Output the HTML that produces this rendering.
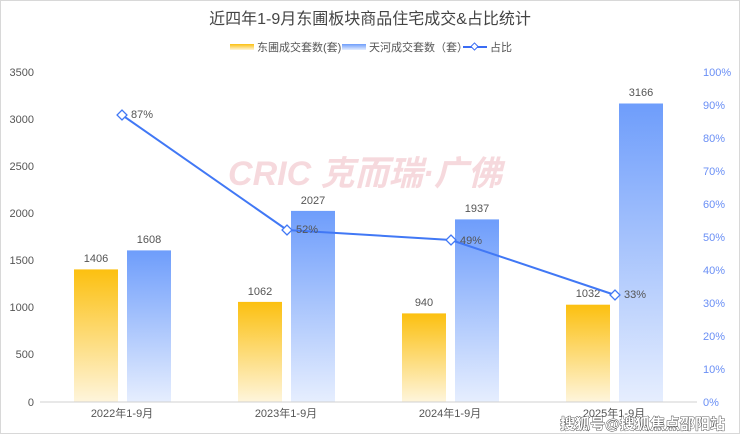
<!DOCTYPE html>
<html><head><meta charset="utf-8"><style>
body{margin:0;background:#fff}
svg{display:block;font-family:"Liberation Sans","Noto Sans CJK SC",sans-serif}
</style></head><body>
<svg width="740" height="439" viewBox="0 0 740 439">
<defs>
<linearGradient id="g" x1="0" y1="0" x2="0" y2="1"><stop offset="0" stop-color="#fcc010"/><stop offset="1" stop-color="#fef5dc"/></linearGradient>
<linearGradient id="b" x1="0" y1="0" x2="0" y2="1"><stop offset="0" stop-color="#6e9dfb"/><stop offset="1" stop-color="#e6eefe"/></linearGradient>
</defs>
<rect x="0.5" y="0.5" width="739" height="433" fill="#fff" stroke="#d8d8d8"/>
<text x="370" y="24" text-anchor="middle" font-size="16" fill="#444">近四年1-9月东圃板块商品住宅成交&amp;占比统计</text>
<rect x="230" y="44" width="24" height="6" fill="url(#g)"/>
<text x="257" y="51" font-size="11" fill="#555">东圃成交套数(套)</text>
<rect x="342" y="44" width="24" height="6" fill="url(#b)"/>
<text x="369" y="51" font-size="11" fill="#555">天河成交套数（套）</text>
<line x1="463" y1="47" x2="487" y2="47" stroke="#3a6cf4" stroke-width="2"/>
<rect x="472" y="44" width="5" height="5" transform="rotate(45 474.5 46.5)" fill="#fff" stroke="#3a6cf4"/>
<text x="490" y="51" font-size="11" fill="#555">占比</text>
<g font-size="11" fill="#555" text-anchor="end">
<text x="34" y="76">3500</text><text x="34" y="123">3000</text><text x="34" y="170">2500</text><text x="34" y="217">2000</text><text x="34" y="264">1500</text><text x="34" y="311">1000</text><text x="34" y="358">500</text><text x="34" y="406">0</text>
</g>
<g font-size="11" fill="#6a8ff5">
<text x="703" y="76">100%</text><text x="703" y="109">90%</text><text x="703" y="142">80%</text><text x="703" y="175">70%</text><text x="703" y="208">60%</text><text x="703" y="241">50%</text><text x="703" y="274">40%</text><text x="703" y="307">30%</text><text x="703" y="340">20%</text><text x="703" y="373">10%</text><text x="703" y="406">0%</text>
</g>
<text x="365" y="185" text-anchor="middle" font-size="34" font-weight="bold" font-style="italic" fill="#f3c9cf" opacity="0.7">CRIC 克而瑞·广佛</text>
<g>
<rect x="74" y="269.4" width="44" height="132.6" fill="url(#g)"/>
<rect x="127" y="250.4" width="44" height="151.6" fill="url(#b)"/>
<rect x="238" y="301.9" width="44" height="100.1" fill="url(#g)"/>
<rect x="291" y="210.9" width="44" height="191.1" fill="url(#b)"/>
<rect x="402" y="313.4" width="44" height="88.6" fill="url(#g)"/>
<rect x="455" y="219.4" width="44" height="182.6" fill="url(#b)"/>
<rect x="566" y="304.7" width="44" height="97.3" fill="url(#g)"/>
<rect x="619" y="103.5" width="44" height="298.5" fill="url(#b)"/>
</g>
<line x1="40" y1="402" x2="697" y2="402" stroke="#d0d0d0"/>
<g font-size="11" fill="#555" text-anchor="middle">
<text x="96" y="262">1406</text><text x="149" y="243">1608</text>
<text x="260" y="295">1062</text><text x="313" y="204">2027</text>
<text x="424" y="306">940</text><text x="477" y="212">1937</text>
<text x="588" y="297">1032</text><text x="641" y="96">3166</text>
<text x="122" y="417">2022年1-9月</text><text x="286" y="417">2023年1-9月</text><text x="450" y="417">2024年1-9月</text><text x="614" y="417">2025年1-9月</text>
</g>
<polyline points="122,115 287,230 451,240 615,295" fill="none" stroke="#4178f5" stroke-width="2"/>
<g fill="#fff" stroke="#4178f5" stroke-width="1.3">
<rect x="118.5" y="111.5" width="7" height="7" transform="rotate(45 122 115)"/>
<rect x="283.5" y="226.5" width="7" height="7" transform="rotate(45 287 230)"/>
<rect x="447.5" y="236.5" width="7" height="7" transform="rotate(45 451 240)"/>
<rect x="611.5" y="291.5" width="7" height="7" transform="rotate(45 615 295)"/>
</g>
<g font-size="11" fill="#555">
<text x="131" y="118">87%</text><text x="296" y="233">52%</text><text x="460" y="244">49%</text><text x="624" y="298">33%</text>
</g>
<text x="560" y="429" font-size="15" font-weight="bold" fill="#fff" stroke="#333" stroke-width="0.8" paint-order="stroke" textLength="165">搜狐号@搜狐焦点邵阳站</text>
</svg>
</body></html>
